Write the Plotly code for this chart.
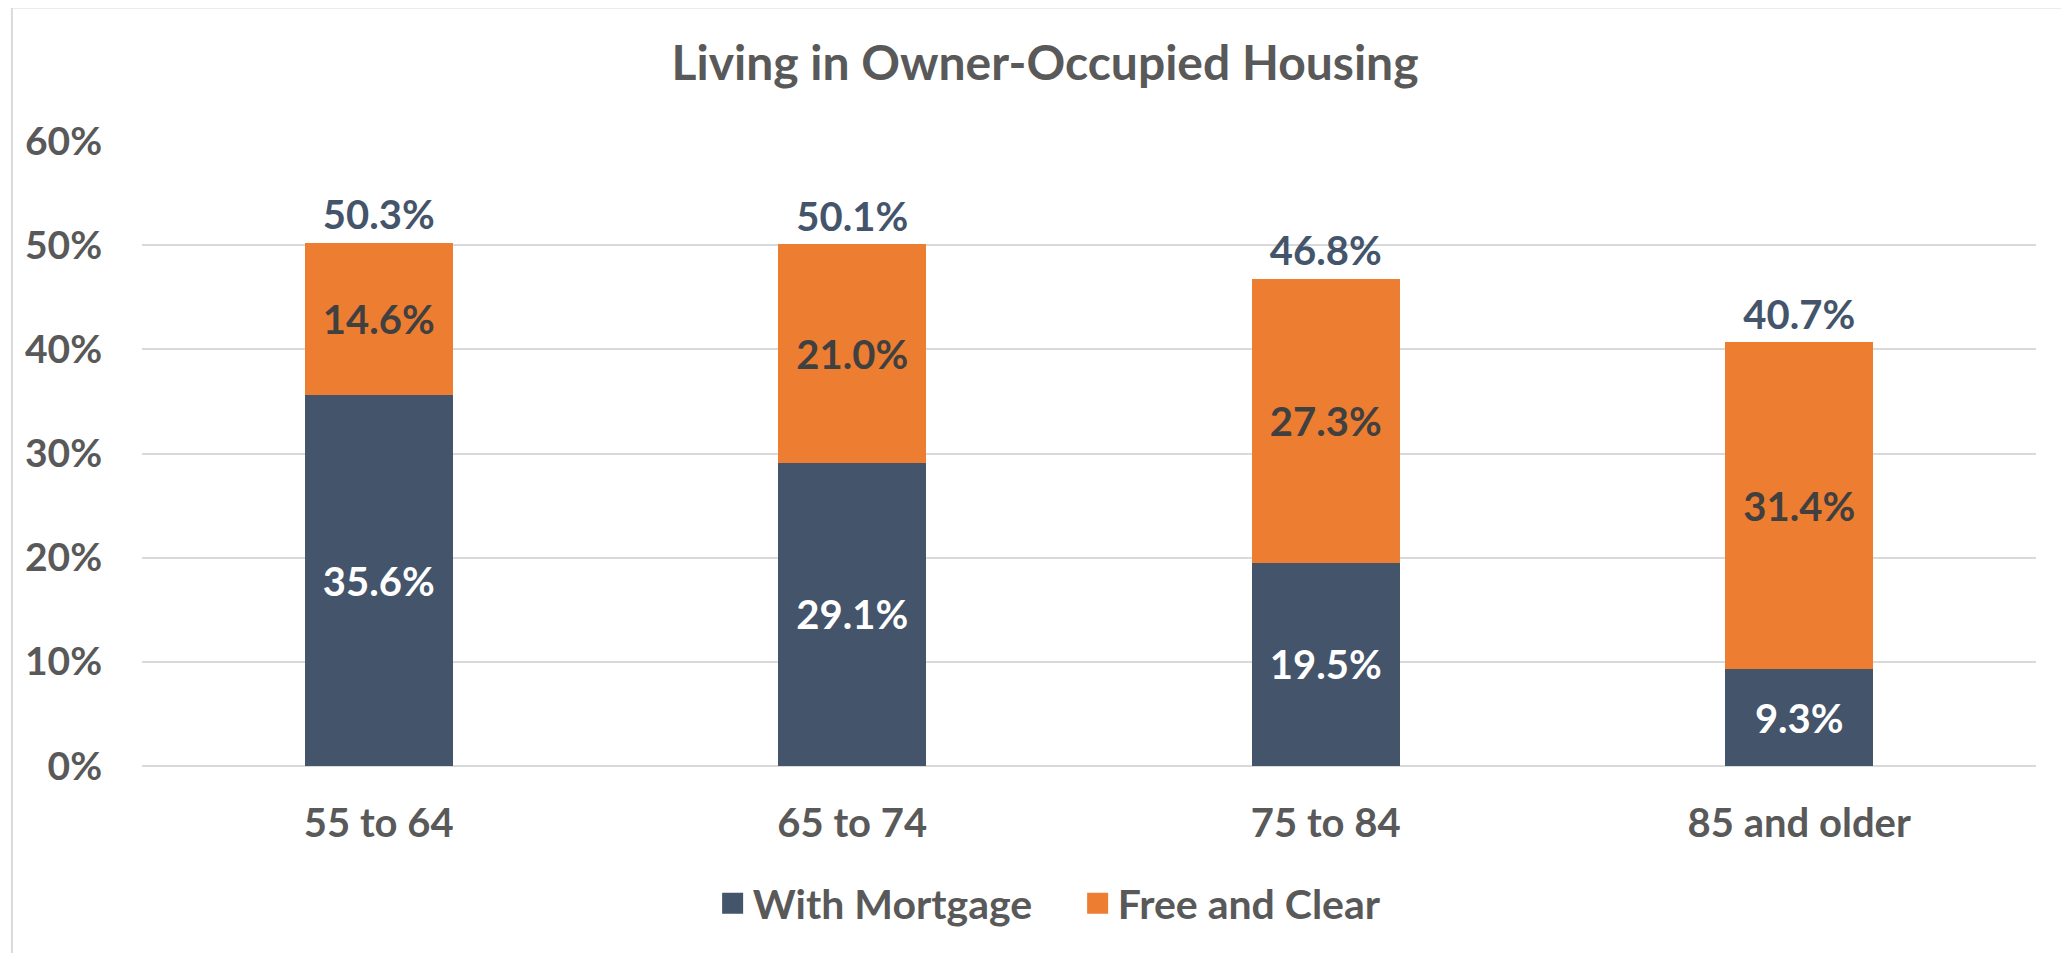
import plotly.graph_objects as go

categories = ["55 to 64", "65 to 74", "75 to 84", "85 and older"]
with_mortgage = [35.6, 29.1, 19.5, 9.3]
free_and_clear = [14.6, 21.0, 27.3, 31.4]
totals = [50.3, 50.1, 46.8, 40.7]
y_tick_vals = [0, 10, 20, 30, 40, 50, 60]
y_tick_text = ["0%", "10%", "20%", "30%", "40%", "50%", "60%"]

NAVY = "#44546A"
ORANGE = "#ED7D31"
GRAY = "#595959"
FONT = "Lato"

# page body has an 8px margin; figure is shrunk so the page fits the window
W, H = 2061, 945

fig = go.Figure()

fig.add_trace(go.Bar(
    x=categories, y=with_mortgage, name="With Mortgage",
    marker=dict(color=NAVY, line=dict(width=0)),
    text=[f"{v:.1f}%" for v in with_mortgage],
    textposition="inside", insidetextanchor="middle", textangle=0,
    constraintext="none",
    textfont=dict(family=FONT, size=40, color="white", weight="bold"),
    showlegend=False, hoverinfo="skip",
))
fig.add_trace(go.Bar(
    x=categories, y=free_and_clear, name="Free and Clear",
    marker=dict(color=ORANGE, line=dict(width=0)),
    text=[f"{v:.1f}%" for v in free_and_clear],
    textposition="inside", insidetextanchor="middle", textangle=0,
    constraintext="none",
    textfont=dict(family=FONT, size=40, color="#404040", weight="bold"),
    showlegend=False, hoverinfo="skip",
))
# totals above bars
fig.add_trace(go.Scatter(
    x=categories, y=totals, mode="markers+text",
    marker=dict(size=4, color="rgba(0,0,0,0)"),
    text=[f"{v:.1f}%" for v in totals],
    textposition="top center",
    textfont=dict(family=FONT, size=40, color=NAVY, weight="bold"),
    showlegend=False, hoverinfo="skip",
))
# legend entries
for nm, col in [("With Mortgage", NAVY), ("Free and Clear", ORANGE)]:
    fig.add_trace(go.Scatter(
        x=[categories[0]], y=[None], mode="markers", name=nm,
        marker=dict(symbol="square", size=16, color=col, line=dict(color=col, width=5)),
        showlegend=True, hoverinfo="skip",
    ))

fig.update_layout(
    width=W, height=H,
    barmode="stack", bargap=0.687,
    paper_bgcolor="white", plot_bgcolor="white",
    margin=dict(l=134, r=33, t=133, b=187, autoexpand=False),
    font=dict(family=FONT, color=GRAY),
    title=dict(
        text="<b>Living in Owner-Occupied Housing</b>",
        x=(1045 - 8) / W, xref="container", xanchor="center",
        y=1 - (63 - 8) / H, yref="container", yanchor="middle",
        font=dict(family=FONT, size=48, color=GRAY),
    ),
    legend=dict(
        orientation="h", x=0.494, xanchor="center", y=-0.22, yanchor="middle",
        font=dict(family=FONT, size=41, color=GRAY, weight="bold"),
        itemwidth=30, traceorder="normal", itemsizing="trace",
        entrywidth=320, entrywidthmode="pixels",
    ),
    showlegend=True,
    shapes=[
        dict(type="line", xref="paper", yref="paper", x0=-0.0687, x1=1.03, y0=1.2138, y1=1.2138,
             line=dict(color="#D9D9D9", width=2)),
        dict(type="line", xref="paper", yref="paper", x0=-0.0687, x1=-0.0687, y0=1.2138, y1=-0.32,
             line=dict(color="#D9D9D9", width=2)),
    ],
)
fig.update_xaxes(
    showgrid=False, showline=False, zeroline=False,
    ticks="outside", ticklen=22, tickcolor="rgba(0,0,0,0)",
    tickfont=dict(family=FONT, size=40, color=GRAY, weight="bold"),
)
fig.update_yaxes(
    range=[0, 60], tickvals=y_tick_vals, ticktext=y_tick_text,
    showgrid=True, gridcolor="#D9D9D9", gridwidth=2,
    zeroline=True, zerolinecolor="#D9D9D9", zerolinewidth=2, showline=False,
    ticks="outside", ticklen=31, tickcolor="rgba(0,0,0,0)",
    tickfont=dict(family=FONT, size=39, color=GRAY, weight="bold"),
)

fig.write_html("out.html")
